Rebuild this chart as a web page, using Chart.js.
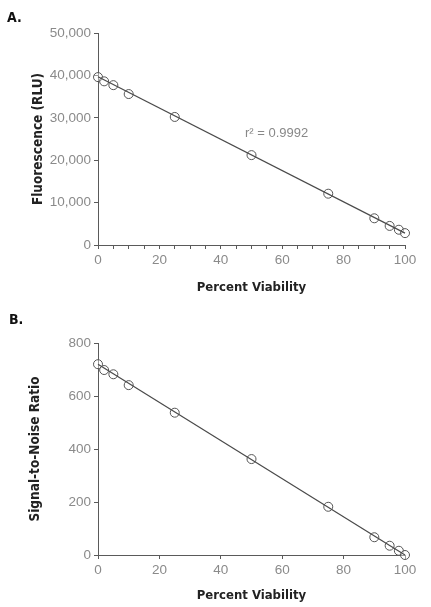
<!DOCTYPE html>
<html>
<head>
<meta charset="utf-8">
<script src="https://cdn.jsdelivr.net/npm/chart.js@4"></script>
<style>
  body { margin: 0; background: #fff; }
  .panel { position: absolute; left: 0; width: 431px; }
</style>
</head>
<body>
<div class="panel" style="top:0;height:303px"><canvas id="chartA" width="431" height="303"></canvas></div>
<div class="panel" style="top:303px;height:304px"><canvas id="chartB" width="431" height="304"></canvas></div>
<script>
// values
const viability = [0, 2, 5, 10, 25, 50, 75, 90, 95, 98, 100];
const fluorescence = [39600, 38600, 37700, 35600, 30200, 21200, 12100, 6300, 4500, 3600, 2800];
const signalNoise = [720, 698, 682, 641, 537, 362, 182, 67, 35, 16, 0];
const fitRange = [0, 100];
const fluorescenceFit = [39700, 2800];
const signalNoiseFit = [720, 0];
const fluorescenceTicks = [0, 10000, 20000, 30000, 40000, 50000];
const signalNoiseTicks = [0, 200, 400, 600, 800];

const narrow = "'Liberation Sans Narrow', 'DejaVu Sans Condensed', sans-serif";
const axisColor = '#5a5a5a';
const tickColor = '#8a8a8a';

Chart.defaults.font.family = "'Liberation Sans', Arial, sans-serif";

function pts(ys) {
    return viability.map((x, i) => ({x: x, y: ys[i]}));
}
function fit(ys) {
    return fitRange.map((x, i) => ({x: x, y: ys[i]}));
}

// panel letter and annotation text
const labels = {
    id: 'labels',
    afterDraw(chart, args, opts) {
        const ctx = chart.ctx;
        ctx.save();
        ctx.textBaseline = 'middle';
        ctx.fillStyle = '#111';
        ctx.font = "bold 14px " + narrow;
        ctx.fillText(opts.letter, opts.lx, opts.ly);
        if (opts.note) {
            ctx.fillStyle = '#888';
            ctx.font = "13px 'Liberation Sans', Arial, sans-serif";
            ctx.fillText(opts.note, opts.nx, opts.ny);
        }
        ctx.restore();
    }
};

function makeChart(id, ys, fitYs, yTicks, yMax, yTitle, cfg) {
    let ctx = document.getElementById(id).getContext('2d');
    return new Chart(ctx, {
        type: 'scatter',
        data: {
            datasets: [{
                type: 'line',
                data: fit(fitYs),
                borderColor: '#4a4a4a',
                borderWidth: 1.2,
                pointRadius: 0,
                clip: false
            }, {
                data: pts(ys),
                pointStyle: 'circle',
                pointRadius: 4.5,
                borderWidth: 1,
                borderColor: '#555',
                backgroundColor: 'rgba(255,255,255,0.4)',
                clip: false
            }]
        },
        options: {
            responsive: false,
            animation: false,
            layout: { padding: { left: 0, top: cfg.top, right: 26, bottom: 0 } },
            plugins: {
                legend: { display: false },
                tooltip: { enabled: false },
                labels: cfg.labels
            },
            scales: {
                x: {
                    type: 'linear',
                    min: 0,
                    max: 100,
                    afterFit: function(scale) { scale.height = cfg.xHeight; },
                    afterBuildTicks: function(scale) {
                        scale.ticks = cfg.xTicks.map(v => ({value: v}));
                    },
                    ticks: {
                        autoSkip: false,
                        maxRotation: 0,
                        padding: 3,
                        color: tickColor,
                        font: { size: 13.5 },
                        callback: v => (v % 20 === 0 ? v : '')
                    },
                    grid: { drawOnChartArea: false, tickLength: 4, color: axisColor },
                    border: { color: axisColor, width: 1 },
                    title: {
                        display: true,
                        text: 'Percent Viability',
                        color: '#222',
                        font: { family: narrow, size: 13, weight: 'bold' },
                        padding: { top: 0, bottom: cfg.xTitlePad }
                    }
                },
                y: {
                    type: 'linear',
                    min: 0,
                    max: yMax,
                    afterFit: function(scale) { scale.width = 98; },
                    afterBuildTicks: function(scale) {
                        scale.ticks = yTicks.map(v => ({value: v}));
                    },
                    ticks: {
                        padding: 3,
                        color: tickColor,
                        font: { size: 13.5 },
                        callback: v => v.toLocaleString('en-US')
                    },
                    grid: { drawOnChartArea: false, tickLength: 4, color: axisColor },
                    border: { color: axisColor, width: 1 },
                    title: {
                        display: true,
                        text: yTitle,
                        color: '#222',
                        font: { family: narrow, size: 13.5, weight: 'bold' },
                        padding: { top: cfg.yTitlePad, bottom: 0 }
                    }
                }
            }
        },
        plugins: [labels]
    });
}

let chartA = makeChart('chartA', fluorescence, fluorescenceFit, fluorescenceTicks, 50000,
    'Fluorescence (RLU)', {
        top: 33, xHeight: 58, xTitlePad: 8, yTitlePad: 30,
        xTicks: [0, 5, 10, 15, 20, 25, 30, 35, 40, 45, 50, 55, 60, 65, 70, 75, 80, 85, 90, 95, 100],
        labels: { letter: 'A.', lx: 7, ly: 18, note: 'r² = 0.9992', nx: 245, ny: 133 }
    });

let chartB = makeChart('chartB', signalNoise, signalNoiseFit, signalNoiseTicks, 800,
    'Signal-to-Noise Ratio', {
        top: 40, xHeight: 52, xTitlePad: 4, yTitlePad: 27,
        xTicks: [0, 20, 40, 60, 80, 100],
        labels: { letter: 'B.', lx: 9, ly: 17 }
    });
</script>
</body>
</html>
